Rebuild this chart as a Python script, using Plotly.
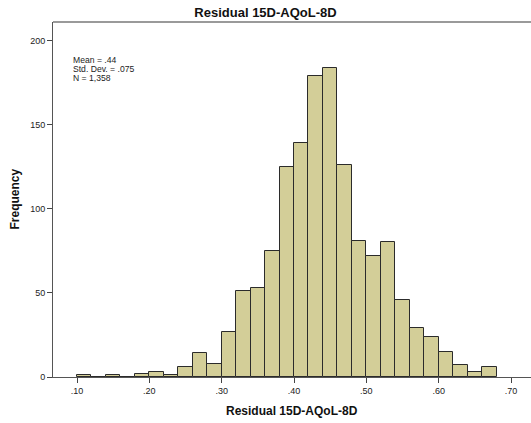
import plotly.graph_objects as go

# Histogram of the residual, bins of width .02
bin_left = [0.10, 0.12, 0.14, 0.16, 0.18, 0.20, 0.22, 0.24, 0.26, 0.28,
            0.30, 0.32, 0.34, 0.36, 0.38, 0.40, 0.42, 0.44, 0.46, 0.48,
            0.50, 0.52, 0.54, 0.56, 0.58, 0.60, 0.62, 0.64, 0.66]
counts = [1, 0, 1, 0, 2, 3, 1, 6, 14, 8,
          27, 51, 53, 75, 125, 139, 179, 184, 126, 81,
          72, 80, 46, 29, 24, 15, 7, 3, 6]
bin_width = 0.02

x_tick_vals = [0.10, 0.20, 0.30, 0.40, 0.50, 0.60, 0.70]
x_tick_text = [".10", ".20", ".30", ".40", ".50", ".60", ".70"]
y_tick_vals = [0, 50, 100, 150, 200]

stats_lines = ["Mean = .44", "Std. Dev. = .075", "N = 1,358"]
title_text = "Residual 15D-AQoL-8D"

FONT = "Liberation Sans, Arial, sans-serif"
W, H = 531, 423
PLOT_W = W - 53
PLOT_H = H - 22 - 46

fig = go.Figure()
fig.add_trace(go.Bar(
    x=[b + bin_width / 2 for b in bin_left],
    y=counts,
    width=bin_width,
    marker=dict(color="#D3CE98", line=dict(color="#2b2b2b", width=1)),
    hoverinfo="x+y",
))

fig.update_layout(
    width=W, height=H,
    margin=dict(l=53, r=0, t=22, b=46),
    paper_bgcolor="white",
    plot_bgcolor="white",
    showlegend=False,
    bargap=0,
    font=dict(family=FONT, color="#222222", size=9),
    title=dict(
        text="<b>%s</b>" % title_text,
        font=dict(family=FONT, size=13, color="#111111"),
        x=0.5, xref="container", xanchor="center",
        y=1 - 12.5 / H, yref="container", yanchor="middle",
    ),
    xaxis=dict(
        range=[0.0668, 0.7276],
        tickvals=x_tick_vals, ticktext=x_tick_text,
        ticks="outside", ticklen=5, tickcolor="#444444", tickwidth=1,
        showline=True, linecolor="#555555", linewidth=1,
        showgrid=False, zeroline=False,
        tickfont=dict(family=FONT, size=9, color="#222222"),
    ),
    yaxis=dict(
        range=[0, 211.1],
        tickvals=y_tick_vals,
        ticks="outside", ticklen=5, tickcolor="#444444", tickwidth=1,
        showline=True, linecolor="#555555", linewidth=1,
        showgrid=False, zeroline=False,
        tickfont=dict(family=FONT, size=9, color="#222222"),
    ),
)

# light frame line along the top of the plot area
fig.add_shape(type="line", xref="paper", yref="paper",
              x0=0, x1=1, y0=1, y1=1,
              line=dict(color="#9a9a9a", width=2))

# axis titles
fig.add_annotation(text="<b>%s</b>" % title_text, xref="paper", yref="paper",
                   x=0.5, y=-(411 - 377) / PLOT_H, xanchor="center",
                   yanchor="middle", showarrow=False,
                   font=dict(family=FONT, size=12, color="#111111"))
fig.add_annotation(text="<b>Frequency</b>", xref="paper", yref="paper",
                   x=-(53 - 14) / PLOT_W, y=0.5, xanchor="center",
                   yanchor="middle", textangle=-90, showarrow=False,
                   font=dict(family=FONT, size=12, color="#111111"))

# summary statistics, one line each with tight spacing
for i, line in enumerate(stats_lines):
    y_px = 60 + i * 8.9
    fig.add_annotation(text=line, xref="paper", yref="paper",
                       x=(72 - 53) / PLOT_W, y=1 - (y_px - 22) / PLOT_H,
                       xanchor="left", yanchor="middle", align="left",
                       showarrow=False, borderpad=0,
                       font=dict(family=FONT, size=8.6, color="#222222"))

fig.write_html("out.html")
